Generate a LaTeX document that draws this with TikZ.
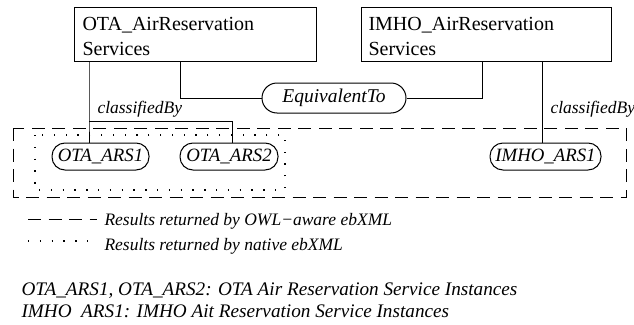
\documentclass[tikz,border=0pt]{standalone}
\usepackage{fontspec}
\setmainfont{Liberation Serif}
\begin{document}
\begin{tikzpicture}[x=1pt,y=-1pt,
  line width=1pt,
  svcbox/.style={draw, line width=1.1pt, rectangle, inner sep=0pt, anchor=north west},
  svctext/.style={anchor=north west, inner sep=0pt, align=left, font=\fontsize{20}{25}\selectfont},
  pill/.style={draw, rectangle, rounded corners=13pt, inner sep=0pt, minimum height=27pt, font=\fontsize{18.8}{21}\selectfont\itshape},
  lbl/.style={anchor=base west, inner sep=0pt, font=\fontsize{17.5}{20}\selectfont\itshape},
  note/.style={anchor=base west, inner sep=0pt, font=\fontsize{19.2}{22}\selectfont\itshape},
  owlbox/.style={dash pattern=on 13pt off 7.5pt, line width=1pt},
  nativebox/.style={dash pattern=on 1.3pt off 10.5pt, line width=1.3pt}
]
\clip (0,0) rectangle (634,324);

% service boxes
\node[svcbox, minimum width=242pt, minimum height=54pt] (ota) at (74,7) {};
\node[svctext] (otat) at (82,16.5) {OTA\_AirReservation\\Services};
\node[svcbox, minimum width=250pt, minimum height=54pt] (imho) at (361,7) {};
\node[svctext] (imhot) at (368,16.5) {IMHO\_AirReservation\\Services};

% equivalence relation
\node[pill, minimum width=144pt, minimum height=30pt, rounded corners=15pt,
      font=\fontsize{19.5}{22}\selectfont\itshape] (eq) at (334,98) {EquivalentTo};

% service instances
\node[pill, minimum width=97pt] (ars1) at (100.5,156.5) {OTA\_ARS1};
\node[pill, minimum width=98pt] (ars2) at (229,156.5) {OTA\_ARS2};
\node[pill, minimum width=111pt] (imars) at (545.5,156.5) {IMHO\_ARS1};

% junction points
\coordinate (j1) at (89,121);
\coordinate (j2) at (232,121);
\coordinate (e1) at (180,98);
\coordinate (e2) at (482,98);
\coordinate (k1) at (542,98);

% connectors
\draw (ota.south -| j1) -- (j1) -- (ars1.north -| j1);
\draw (j1) -- (j2) -- (ars2.north -| j2);
\draw (ota.south -| e1) -- (e1) -- (eq.west);
\draw (eq.east) -- (e2) -- (imho.south -| e2);
\draw (imho.south -| k1) -- (imars.north -| k1);

\node[lbl] (cb1) at (97,113) {classifiedBy};
\node[lbl] (cb2) at (550,113) {classifiedBy};

% result regions
\draw[owlbox] (13,128) rectangle (626,197);
\draw[nativebox] (35,135) rectangle (285,190);

% legend
\coordinate (l1a) at (28,219);
\coordinate (l1b) at (97,219);
\coordinate (l2a) at (28,241);
\coordinate (l2b) at (97,241);
\draw[owlbox] (l1a) -- (l1b);
\draw[nativebox] (l2a) -- (l2b);
\node[lbl] (leg1) at (104,225) {Results returned by OWL−aware ebXML};
\node[lbl] (leg2) at (104,250) {Results returned by native ebXML};

% notes
\node[note] (n1) at (21,295) {OTA\_ARS1, OTA\_ARS2: OTA Air Reservation Service Instances};
\node[note] (n2) at (21,317) {IMHO\phantom{\_}ARS1: IMHO Ait Reservation Service Instances};
\end{tikzpicture}
\end{document}
